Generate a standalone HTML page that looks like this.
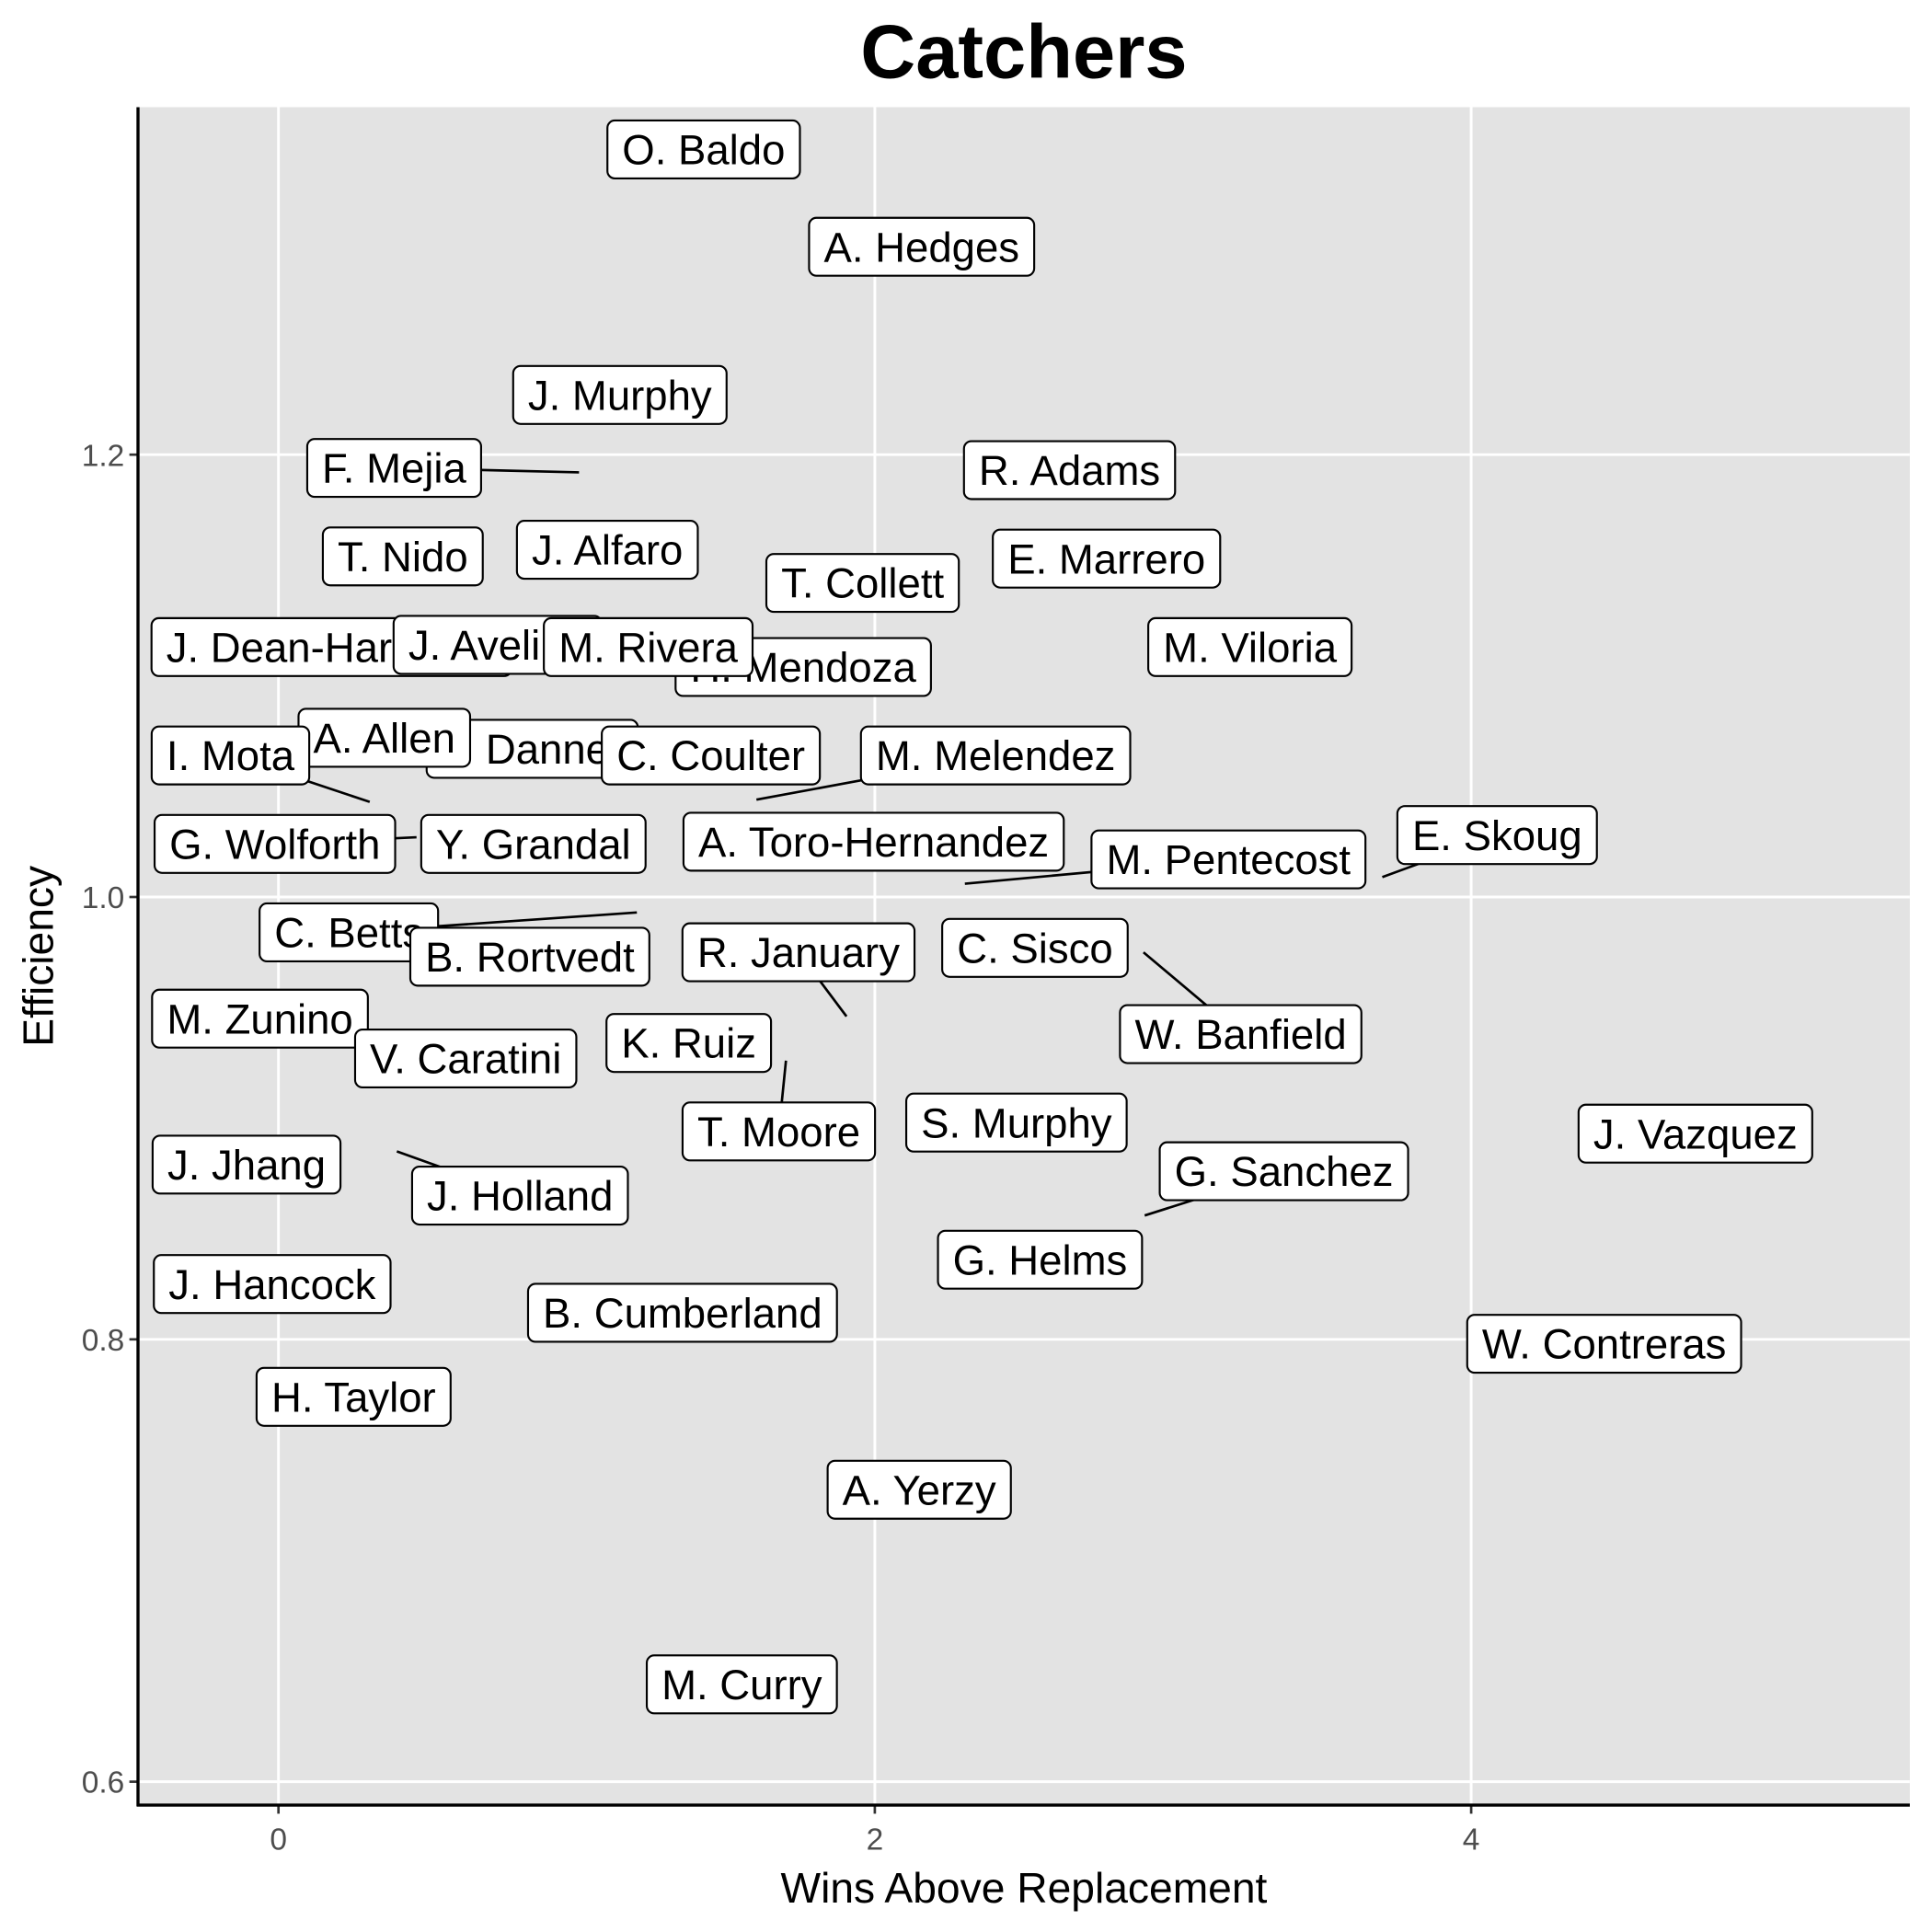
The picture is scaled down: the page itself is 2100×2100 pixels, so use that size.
<!DOCTYPE html>
<html><head><meta charset="utf-8"><style>
html,body{margin:0;padding:0;background:#fff;}
svg{display:block;font-family:"Liberation Sans",sans-serif;}
</style></head><body>
<svg id="chart" width="2100" height="2100" viewBox="0 0 1568 1568" xmlns="http://www.w3.org/2000/svg">
<rect x="0" y="0" width="1568" height="1568" fill="#fff"/>
<rect x="112" y="87" width="1438" height="1378" fill="#e3e3e3"/>
<g id="grid"></g>
<g id="segs"></g>
<g id="labels"></g>
<g id="axes"></g>
<text x="831" y="63" text-anchor="middle" font-size="62" font-weight="bold">Catchers</text>
<text x="831" y="1544" text-anchor="middle" font-size="34.5">Wins Above Replacement</text>
<text transform="translate(43,776) rotate(-90)" text-anchor="middle" font-size="34.5">Efficiency</text>
</svg>
<script>
const names = ["O. Baldo","A. Hedges","J. Murphy","F. Mejia","R. Adams","T. Nido","J. Alfaro","T. Collett","E. Marrero","J. Dean-Hargrove","J. Avelino","H. Mendoza","M. Rivera","M. Viloria","J. Danner","A. Allen","I. Mota","C. Coulter","M. Melendez","G. Wolforth","Y. Grandal","A. Toro-Hernandez","M. Pentecost","E. Skoug","C. Betts","B. Rortvedt","R. January","C. Sisco","W. Banfield","M. Zunino","V. Caratini","K. Ruiz","T. Moore","S. Murphy","J. Vazquez","J. Jhang","G. Sanchez","J. Holland","G. Helms","J. Hancock","B. Cumberland","W. Contreras","H. Taylor","A. Yerzy","M. Curry"];
const labelX = [1.426,2.157,1.145,0.388,2.653,0.417,1.103,1.959,2.777,0.178,0.735,1.760,1.240,3.258,0.851,0.355,-0.161,1.450,2.405,-0.012,0.855,1.996,3.186,4.087,0.236,0.843,1.744,2.537,3.227,-0.062,0.628,1.376,1.678,2.475,4.752,-0.107,3.372,0.810,2.554,-0.021,1.355,4.446,0.252,2.149,1.554];
const labelY = [1.338,1.294,1.227,1.194,1.193,1.154,1.157,1.142,1.153,1.113,1.114,1.104,1.113,1.113,1.067,1.072,1.064,1.064,1.064,1.024,1.024,1.025,1.017,1.028,0.984,0.973,0.975,0.977,0.938,0.945,0.927,0.934,0.894,0.898,0.893,0.879,0.876,0.865,0.836,0.825,0.812,0.798,0.774,0.732,0.644];
const pointX = [null,null,null,1.008,null,null,null,null,null,null,null,null,null,null,null,null,0.306,null,1.603,0.463,null,null,2.302,3.702,1.202,null,1.905,null,2.901,null,null,null,1.702,null,null,null,2.905,0.397,null,null,null,null,null,null,null];
const pointY = [null,null,null,1.192,null,null,null,null,null,null,null,null,null,null,null,null,1.043,null,1.044,1.027,null,null,1.006,1.009,0.993,null,0.946,null,0.975,null,null,null,0.926,null,null,null,0.856,0.885,null,null,null,null,null,null,null];
const xTicks = [0,2,4];
const xTickLabels = ["0","2","4"];
const yTicks = [0.6,0.8,1.0,1.2];
const yTickLabels = ["0.6","0.8","1.0","1.2"];

const NS="http://www.w3.org/2000/svg";
const X0=112,X1=1550,Y0=87,Y1=1465;
function sx(v){return 226+(v-0)*242;}
function sy(v){return 728-(v-1.0)*1795;}
function mk(tag,attrs,parent){const e=document.createElementNS(NS,tag);for(const k in attrs)e.setAttribute(k,attrs[k]);parent.appendChild(e);return e;}
const grid=document.getElementById('grid'),axes=document.getElementById('axes'),segs=document.getElementById('segs'),labs=document.getElementById('labels');
xTicks.forEach((t,i)=>{
  const l=mk('line',{x1:sx(t),x2:sx(t),y1:Y0,y2:Y1,stroke:'#fff','stroke-width':2.2},grid);
  
  
  const tk=mk('line',{x1:sx(t),x2:sx(t),y1:Y1,y2:Y1+7,stroke:'#333','stroke-width':2},axes);
  
  
  const tx=mk('text',{x:sx(t),y:Y1+36,'text-anchor':'middle','font-size':25,fill:'#4d4d4d'},axes);
  tx.textContent=xTickLabels[i];
  
  
});
yTicks.forEach((t,i)=>{
  const l=mk('line',{x1:X0,x2:X1,y1:sy(t),y2:sy(t),stroke:'#fff','stroke-width':2.2},grid);
  
  
  const tk=mk('line',{x1:X0-7,x2:X0,y1:sy(t),y2:sy(t),stroke:'#333','stroke-width':2},axes);
  
  
  const tx=mk('text',{x:X0-11,y:sy(t)+9,'text-anchor':'end','font-size':25,fill:'#4d4d4d'},axes);
  tx.textContent=yTickLabels[i];
  
  
});
const ax1=mk('line',{x1:X0,x2:X0,y1:Y0,y2:Y1+1,stroke:'#000','stroke-width':2.5},axes);


const ax2=mk('line',{x1:X0-1,x2:X1,y1:Y1,y2:Y1,stroke:'#000','stroke-width':2.5},axes);



names.forEach((n,i)=>{
  const cx=sx(labelX[i]),cy=sy(labelY[i]);
  if(pointX[i]!==null){
    const s=mk('line',{x1:cx,y1:cy,x2:sx(pointX[i]),y2:sy(pointY[i]),stroke:'#000','stroke-width':2},segs);
    
    
  }
  const g=mk('g',{},labs);
  
  
  const r=mk('rect',{y:cy-23.5,height:47,rx:6,fill:'#fff',stroke:'#000','stroke-width':1.6},g);
  const t=mk('text',{x:cx,y:cy+12,'text-anchor':'middle','font-size':34,fill:'#000'},g);
  t.textContent=n;
  const w=t.getComputedTextLength()+24;
  r.setAttribute('x',cx-w/2);r.setAttribute('width',w);
});
</script>
</body></html>
